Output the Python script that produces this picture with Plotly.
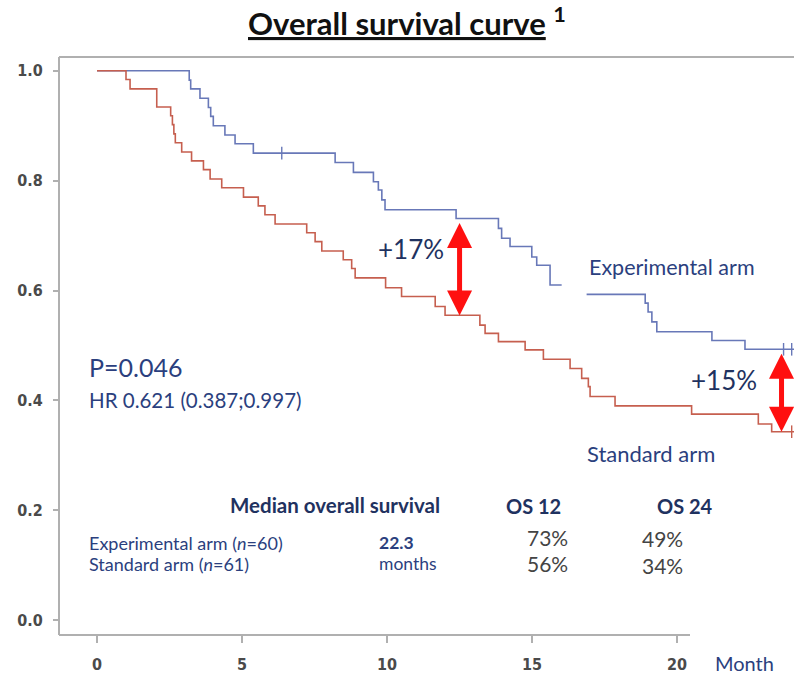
import plotly.graph_objects as go

# ---------------- data ----------------
exp_times = [0, 3.18, 3.23, 3.55, 3.84, 3.92, 4.01, 4.41, 4.76, 5.39, 8.21, 8.84, 9.53, 9.70, 9.82, 9.93,
             12.38, 13.84, 13.95, 14.24, 14.99, 15.16, 15.62, 16.88, 18.90, 19.00, 19.13, 19.30, 21.20, 22.34]
exp_surv = [1.0, 0.983, 0.967, 0.950, 0.933, 0.917, 0.900, 0.883, 0.867, 0.850, 0.833, 0.815, 0.798, 0.783,
            0.765, 0.747, 0.731, 0.713, 0.695, 0.680, 0.661, 0.646, 0.610, 0.593, 0.577, 0.561, 0.543, 0.525,
            0.509, 0.493]
exp_gap = (16.02, 16.88)          # stretch where the experimental curve is hidden
exp_censor = [6.37, 23.67, 23.95]

std_times = [0, 1.00, 1.14, 2.06, 2.54, 2.60, 2.65, 2.70, 2.92, 3.26, 3.67, 3.90, 4.30, 5.05, 5.56, 5.79, 6.14,
             7.23, 7.52, 7.75, 8.49, 8.78, 8.90, 9.95, 10.50, 11.66, 12.00, 13.20, 13.38, 13.84, 14.76, 15.39,
             16.31, 16.71, 16.94, 17.00, 17.86, 20.50, 22.80, 23.26]
std_surv = [1.0, 0.984, 0.967, 0.934, 0.918, 0.902, 0.885, 0.869, 0.852, 0.836, 0.820, 0.803, 0.787, 0.770,
            0.754, 0.738, 0.721, 0.705, 0.689, 0.672, 0.656, 0.640, 0.623, 0.605, 0.589, 0.571, 0.555, 0.537,
            0.522, 0.507, 0.492, 0.475, 0.458, 0.440, 0.425, 0.407, 0.390, 0.375, 0.357, 0.343]
std_censor = [23.95]
follow_end = 24.2

x_ticks = [0, 5, 10, 15, 20]
y_ticks = [0.0, 0.2, 0.4, 0.6, 0.8, 1.0]
y_tick_labels = ["0.0", "0.2", "0.4", "0.6", "0.8", "1.0"]

arrow_months = [12.5, 23.6]
arrow_labels = ["+17%", "+15%"]

table_rows = ["Experimental arm (<i>n</i>=60)", "Standard arm (<i>n</i>=61)"]
median_text = ["<b>22.3</b>", "months"]
os12 = ["73%", "56%"]
os24 = ["49%", "34%"]

BLUE = "#6878b8"
RED = "#c65f4f"
NAVY = "#2b3f7e"
DARKNAVY = "#1f3260"
GREY_TXT = "#444444"
TICK_TXT = "#4a4a4a"
AXIS = "#b0b0b0"


def surv_at(times, surv, t):
    v = surv[0]
    for ti, si in zip(times, surv):
        if ti <= t:
            v = si
    return v


def step_xy(times, surv, end, gap=None):
    xs, ys = [], []
    for ti, si in zip(times, surv):
        if gap is not None and abs(ti - gap[1]) < 1e-9:
            xs += [gap[0], None]
            ys += [ys[-1], None]
        xs.append(ti)
        ys.append(si)
    xs.append(end)
    ys.append(surv[-1])
    return xs, ys


fig = go.Figure()

ex, ey = step_xy(exp_times, exp_surv, follow_end, exp_gap)
sx, sy = step_xy(std_times, std_surv, follow_end)

fig.add_trace(go.Scatter(x=ex, y=ey, mode="lines", line=dict(color=BLUE, width=1.6, shape="hv"),
                         connectgaps=False, hoverinfo="skip", showlegend=False))
fig.add_trace(go.Scatter(x=sx, y=sy, mode="lines", line=dict(color=RED, width=1.6, shape="hv"),
                         hoverinfo="skip", showlegend=False))
fig.add_trace(go.Scatter(x=exp_censor, y=[surv_at(exp_times, exp_surv, t) for t in exp_censor],
                         mode="markers", marker=dict(symbol="line-ns", size=9, line=dict(color=BLUE, width=1.4)),
                         hoverinfo="skip", showlegend=False))
fig.add_trace(go.Scatter(x=std_censor, y=[surv_at(std_times, std_surv, t) for t in std_censor],
                         mode="markers", marker=dict(symbol="line-ns", size=9, line=dict(color=RED, width=1.4)),
                         hoverinfo="skip", showlegend=False))

ann = []
# double-headed red arrows between the curves
for t in arrow_months:
    top = surv_at(exp_times, exp_surv, t) - 0.008
    bot = surv_at(std_times, std_surv, t) - 0.003
    ann.append(dict(x=t, y=top, ax=t, ay=bot, xref="x", yref="y", axref="x", ayref="y",
                    showarrow=True, arrowside="end+start", arrowhead=2, startarrowhead=2,
                    arrowsize=1.0, startarrowsize=1.0, arrowwidth=5, arrowcolor="#ff1010",
                    standoff=0, startstandoff=0, text=""))


def txt(x, y, s, size, color=NAVY, xanchor="left", bold=False, xref="x", yref="y"):
    ann.append(dict(x=x, y=y, xref=xref, yref=yref, text=(f"<b>{s}</b>" if bold else s), showarrow=False,
                    xanchor=xanchor, yanchor="middle", font=dict(family="Lato", size=size, color=color)))


txt(-0.345, 0.461, "P=0.046", 25)
txt(-0.345, 0.401, "HR 0.621 (0.387;0.997)", 20.5)
txt(10.83, 0.676, arrow_labels[0], 26, DARKNAVY, "center")
txt(21.6, 0.437, arrow_labels[1], 26, DARKNAVY, "center")
txt(16.9, 0.642, "Experimental arm", 21.5)
txt(16.83, 0.303, "Standard arm", 22)
txt(8.21, 0.2096, "Median overall survival", 20.5, DARKNAVY, "center", bold=True)
txt(15.05, 0.2078, "OS 12", 20, DARKNAVY, "center", bold=True)
txt(20.28, 0.2078, "OS 24", 20, DARKNAVY, "center", bold=True)
row_y = [0.1405, 0.1023]
for i in range(2):
    txt(-0.345, row_y[i], table_rows[i], 18)
    txt(9.655, row_y[i], median_text[i], 17.5)
    txt(16.31, row_y[i] + (0.01 if i == 0 else 0.0), os12[i], 21, GREY_TXT, "right")
    txt(20.28, row_y[i] + (0.009 if i == 0 else -0.002), os24[i], 21, GREY_TXT, "right")

# axis title "Month" beside the last tick
txt(0.8898, -0.0484, "Month", 20, NAVY, "left", xref="paper", yref="paper")
# chart title
ann.append(dict(x=0.474, y=1.0606, xref="paper", yref="paper", showarrow=False, xanchor="center",
                yanchor="middle", text="<b><u>Overall survival curve</u> <sup>1</sup></b>",
                font=dict(family="Lato", size=31, color="#111111")))

shapes = [
    dict(type="line", xref="paper", yref="paper", x0=0, x1=1, y0=1, y1=1, line=dict(color=AXIS, width=2)),
    dict(type="line", xref="paper", yref="paper", x0=0, x1=0, y0=0, y1=1, line=dict(color=AXIS, width=2)),
    dict(type="line", xref="paper", yref="paper", x0=0, x1=0.8585, y0=0, y1=0, line=dict(color=AXIS, width=2)),
]

fig.update_layout(
    width=794, height=679,
    margin=dict(l=59, r=0, t=57, b=44),
    paper_bgcolor="white", plot_bgcolor="white",
    annotations=ann, shapes=shapes,
    xaxis=dict(range=[-1.31, 24.03], tickvals=x_ticks, ticks="outside", ticklen=7, tickwidth=1.5,
               tickcolor=AXIS, showgrid=False, zeroline=False, showline=False, ticklabelstandoff=8,
               tickfont=dict(family="DejaVu Sans Condensed", size=16, color=TICK_TXT, weight="bold")),
    yaxis=dict(range=[-0.027, 1.025], tickvals=y_ticks, ticktext=y_tick_labels, ticks="outside", ticklen=5,
               tickwidth=1.5, tickcolor=AXIS, showgrid=False, zeroline=False, showline=False,
               ticklabelstandoff=7,
               tickfont=dict(family="DejaVu Sans Condensed", size=16, color=TICK_TXT, weight="bold")),
)

fig.write_html("out.html", config={"displayModeBar": False},
               post_script="document.body.style.margin='0px';")
